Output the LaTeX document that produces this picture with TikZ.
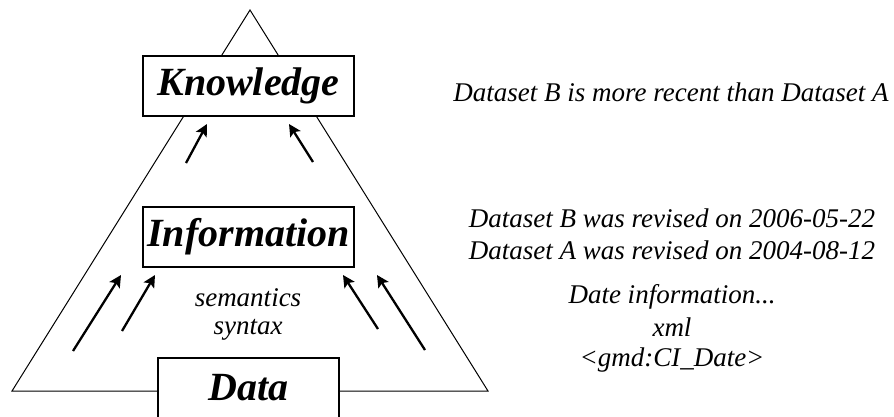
\documentclass[tikz,border=0pt]{standalone}
\usepackage{fontspec}
\setmainfont{Liberation Serif}
\usetikzlibrary{arrows.meta}
\begin{document}
\begin{tikzpicture}[x=1pt,y=-1pt]
\tikzstyle{every node}+=[inner sep=0pt]
\tikzstyle{level}=[draw,fill=white,line width=1.2pt,minimum height=60pt,font=\fontsize{40}{44}\selectfont\bfseries\itshape]
\tikzstyle{up}=[line width=2.3pt,-{Stealth[length=12pt,width=12pt,inset=2.5pt]}]
\tikzstyle{note}=[font=\fontsize{27}{32}\selectfont\itshape,align=center]
\useasboundingbox (0,0) rectangle (894,416);
% pyramid
\draw [line width=1pt] (12,391) -- (250,10) -- (488,391) -- cycle;
\node [level,minimum width=211pt] (know) at (248.5,86) {Knowledge};
\node [level,minimum width=211pt] (info) at (248.5,237) {Information};
\node [level,minimum width=181pt] (data) at (248.5,388) {Data};
\node [note] (sem) at (248,298) {semantics};
\node [note] (syn) at (248,330) {syntax};
% arrows
\coordinate (k1) at (186,163); \coordinate (k1t) at (207,124);
\coordinate (k2) at (313,162); \coordinate (k2t) at (289,124);
\coordinate (i1) at (73,351);  \coordinate (i1t) at (121,275);
\coordinate (i2) at (122,331); \coordinate (i2t) at (155,275);
\coordinate (i3) at (378,329); \coordinate (i3t) at (343,275);
\coordinate (i4) at (425,350); \coordinate (i4t) at (377,275);
\draw [up] (k1) -- (k1t);
\draw [up] (k2) -- (k2t);
\draw [up] (i1) -- (i1t);
\draw [up] (i2) -- (i2t);
\draw [up] (i3) -- (i3t);
\draw [up] (i4) -- (i4t);
% examples
\node [note] (recent) at (671,92) {Dataset B is more recent than Dataset A};
\node [note] (revB) at (672,218) {Dataset B was revised on 2006-05-22};
\node [note] (revA) at (672,250) {Dataset A was revised on 2004-08-12};
\node [note] (date) at (672,297) {Date information...};
\node [note] (xml) at (672,327) {xml};
\node [note] (tag) at (672,360) {<gmd:CI\_Date>};
\end{tikzpicture}
\end{document}
